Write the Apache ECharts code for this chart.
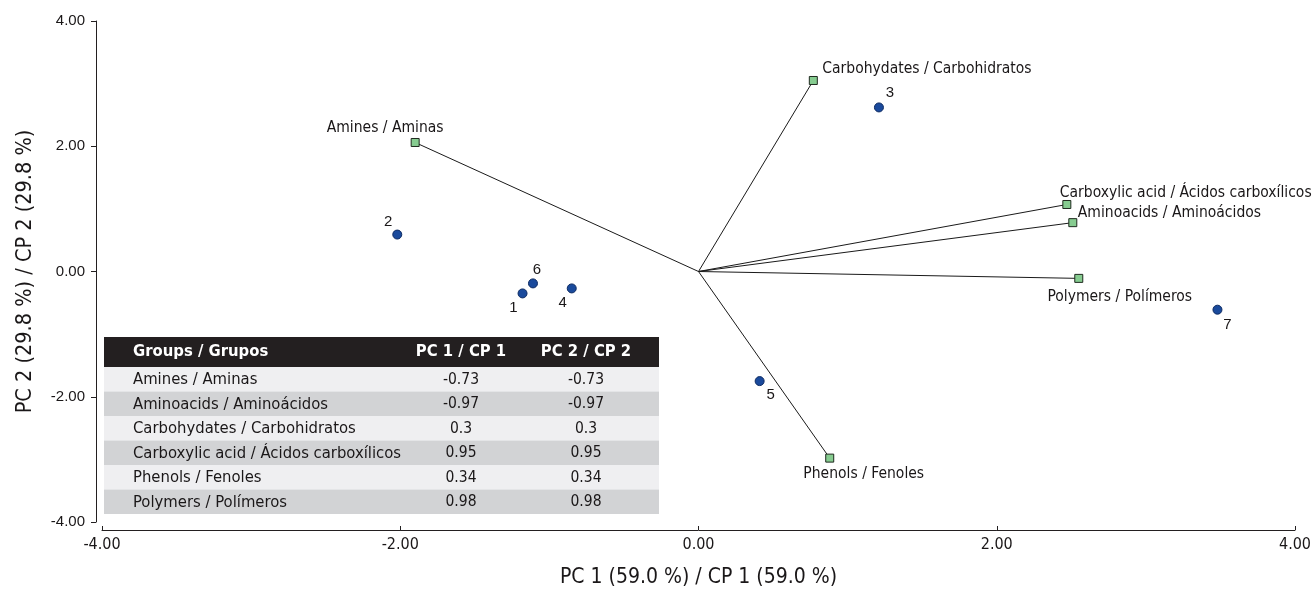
<!DOCTYPE html>
<html><head><meta charset="utf-8">
<script src="https://cdn.jsdelivr.net/npm/echarts@6/dist/echarts.min.js"></script>
<style>html,body{margin:0;padding:0;background:#fff}#c{width:1315px;height:593px}</style>
</head><body><div id="c"></div>
<script>
// ---- data ----
const groupNames = ['Amines / Aminas','Aminoacids / Aminoácidos','Carbohydates / Carbohidratos','Carboxylic acid / Ácidos carboxílicos','Phenols / Fenoles','Polymers / Polímeros'];
const groupPC1 = [-1.90, 2.51, 0.77, 2.47, 0.88, 2.55];
const groupPC2 = [2.06, 0.78, 3.05, 1.07, -2.98, -0.11];
const sampleIds = ['1','2','3','4','5','6','7'];
const samplePC1 = [-1.18, -2.02, 1.21, -0.85, 0.41, -1.11, 3.48];
const samplePC2 = [-0.35, 0.59, 2.62, -0.27, -1.75, -0.19, -0.61];
const tableHeader = ['Groups / Grupos','PC 1 / CP 1','PC 2 / CP 2'];
const tableGroups = ['Amines / Aminas','Aminoacids / Aminoácidos','Carbohydates / Carbohidratos','Carboxylic acid / Ácidos carboxílicos','Phenols / Fenoles','Polymers / Polímeros'];
const tablePC1 = ['-0.73','-0.97','0.3','0.95','0.34','0.98'];
const tablePC2 = ['-0.73','-0.97','0.3','0.95','0.34','0.98'];
const xAxisTitle = 'PC 1 (59.0 %) / CP 1 (59.0 %)';
const yAxisTitle = 'PC 2 (29.8 %) / CP 2 (29.8 %)';

// ---- styles / label placement ----
const COND = '"DejaVu Sans Condensed","Liberation Sans Narrow",sans-serif';
const REG = '"Liberation Sans",Arial,sans-serif';
const INK = '#1a1718';
const groupLabelPlace = [
  {align:'center', offset:[-30,-15]},
  {align:'left', offset:[5,-10]},
  {align:'left', offset:[9,-12]},
  {align:'left', offset:[-7,-12]},
  {align:'center', offset:[34,16]},
  {align:'center', offset:[41,19]}
];
const sampleLabelOffset = [[-9,14],[-9,-13],[11,-15],[-9,14],[11,14],[4,-14],[10,15]];

const series = [];
groupNames.forEach((n,i)=>{
  series.push({type:'line', data:[[0,0],[groupPC1[i],groupPC2[i]]], showSymbol:false, symbol:'none',
    lineStyle:{color:'#1a1a1a', width:1}, silent:true, z:2});
});
series.push({type:'scatter', symbol:'rect', symbolSize:8, z:4,
  itemStyle:{color:'#86cc90', borderColor:'#1f2a1f', borderWidth:1, opacity:1},
  data: groupNames.map((n,i)=>({value:[groupPC1[i],groupPC2[i]], name:n,
    label:{show:true, position:'inside', formatter:n, align:groupLabelPlace[i].align, verticalAlign:'middle',
      offset:groupLabelPlace[i].offset, color:INK, fontFamily:COND, fontSize:15.5}}))
});
series.push({type:'scatter', symbol:'circle', symbolSize:9, z:5,
  itemStyle:{color:'#1a4a9c', borderColor:'#0d2a62', borderWidth:1, opacity:1},
  data: sampleIds.map((n,i)=>({value:[samplePC1[i],samplePC2[i]], name:n,
    label:{show:true, position:'inside', formatter:n, align:'center', verticalAlign:'middle',
      offset:sampleLabelOffset[i], color:INK, fontFamily:REG, fontSize:15}}))
});

// ---- table as graphic ----
const tL=104, tR=659, hTop=337, hH=30, rH=24.5, textX=133, c1=461, c2=586;
const gfx=[];
const hFont='bold 16.5px '+COND, rFont='16.5px '+COND, vFont='15.5px '+COND;
gfx.push({type:'rect', shape:{x:tL,y:hTop,width:tR-tL,height:hH}, style:{fill:'#231f20'}, z:10});
gfx.push({type:'text', x:textX, y:hTop+hH/2, style:{text:tableHeader[0], fill:'#fff', font:hFont, textVerticalAlign:'middle'}, z:11});
gfx.push({type:'text', x:c1, y:hTop+hH/2, style:{text:tableHeader[1], fill:'#fff', font:hFont, textAlign:'center', textVerticalAlign:'middle'}, z:11});
gfx.push({type:'text', x:c2, y:hTop+hH/2, style:{text:tableHeader[2], fill:'#fff', font:hFont, textAlign:'center', textVerticalAlign:'middle'}, z:11});
tableGroups.forEach((g,i)=>{
  const y=hTop+hH+i*rH;
  gfx.push({type:'rect', shape:{x:tL,y:y,width:tR-tL,height:rH}, style:{fill: i%2===0?'#efeff1':'#d2d3d5'}, z:10});
  const cy=y+rH/2+0.5;
  gfx.push({type:'text', x:textX, y:cy, style:{text:g, fill:INK, font:rFont, textVerticalAlign:'middle'}, z:11});
  gfx.push({type:'text', x:c1, y:cy, style:{text:tablePC1[i], fill:INK, font:vFont, textAlign:'center', textVerticalAlign:'middle'}, z:11});
  gfx.push({type:'text', x:c2, y:cy, style:{text:tablePC2[i], fill:INK, font:vFont, textAlign:'center', textVerticalAlign:'middle'}, z:11});
});

const chart = echarts.init(document.getElementById('c'), null, {renderer:'canvas'});
chart.setOption({
  animation:false,
  backgroundColor:'#fff',
  grid:{left:102, right:20, top:21, bottom:70, containLabel:false},
  xAxis:{type:'value', min:-4, max:4, interval:2, offset:8,
    name:xAxisTitle, nameLocation:'middle', nameGap:37,
    nameTextStyle:{fontFamily:COND, fontSize:21, color:INK},
    axisLine:{show:true, onZero:false, lineStyle:{color:'#231f20', width:1}},
    axisTick:{show:true, inside:true, length:4, lineStyle:{color:'#231f20'}},
    axisLabel:{margin:7, fontFamily:COND, fontSize:16, color:INK, formatter:v=>v.toFixed(2)},
    splitLine:{show:false}},
  yAxis:{type:'value', min:-4, max:4, interval:2, offset:6,
    name:yAxisTitle, nameLocation:'middle', nameGap:60,
    nameTextStyle:{fontFamily:COND, fontSize:21.5, color:INK},
    axisLine:{show:true, onZero:false, lineStyle:{color:'#231f20', width:1}},
    axisTick:{show:true, inside:false, length:5, lineStyle:{color:'#231f20'}},
    axisLabel:{margin:11, fontFamily:REG, fontSize:15, color:INK, formatter:v=>v.toFixed(2)},
    splitLine:{show:false}},
  series: series,
  graphic: gfx
});
</script></body></html>
